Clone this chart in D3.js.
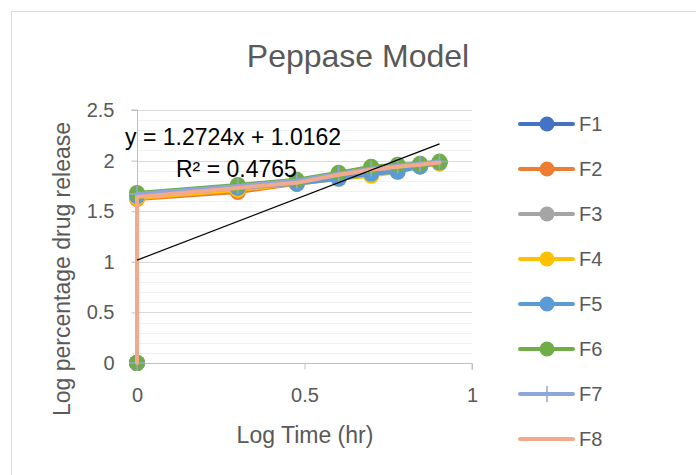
<!DOCTYPE html>
<html><head><meta charset="utf-8">
<script src="https://cdn.jsdelivr.net/npm/d3@7"></script>
<style>body{margin:0;background:#fff;} text{font-family:"Liberation Sans",Arial,sans-serif;}</style>
</head><body><svg id="c" width="696" height="475"></svg>
<script>
const logTime = [0, 0, 0.301, 0.477, 0.602, 0.699, 0.778, 0.845, 0.903];
const F1 = [0, 1.66, 1.74, 1.79, 1.85, 1.90, 1.93, 1.96, 1.98];
const F2 = [0, 1.62, 1.69, 1.77, 1.84, 1.88, 1.92, 1.95, 1.98];
const F3 = [0, 1.65, 1.72, 1.78, 1.83, 1.89, 1.92, 1.95, 1.98];
const F4 = [0, 1.63, 1.71, 1.77, 1.82, 1.85, 1.89, 1.94, 1.97];
const F5 = [0, 1.65, 1.73, 1.77, 1.82, 1.87, 1.89, 1.94, 1.98];
const F6 = [0, 1.68, 1.76, 1.81, 1.88, 1.94, 1.96, 1.97, 1.99];
const F7 = [0, 1.67, 1.75, 1.80, 1.87, 1.92, 1.95, 1.97, 1.99];
const F8 = [0, 1.64, 1.73, 1.78, 1.86, 1.91, 1.94, 1.96, 1.98];
const seriesNames = ["F1","F2","F3","F4","F5","F6","F7","F8"];
const seriesValues = [F1,F2,F3,F4,F5,F6,F7,F8];
const seriesColors = ["#4472C4","#ED7D31","#A5A5A5","#FFC000","#5B9BD5","#70AD47","#8FA6DA","#F4A98A"];
const seriesMarkers = ["circle","circle","circle","circle","circle","circle","plus","none"];
const xTicks = [0, 0.5, 1];
const yTicks = [0, 0.5, 1, 1.5, 2, 2.5];
const trendSlope = 1.2724, trendIntercept = 1.0162;
const trendLabel = "y = 1.2724x + 1.0162";
const r2Label = "R² = 0.4765";
const title = "Peppase Model";
const xTitle = "Log Time (hr)";
const yTitle = "Log percentage drug release";

const svg = d3.select("#c");
svg.append("rect").attr("x",11.5).attr("y",11.5).attr("width",700).attr("height",500)
  .attr("fill","#fff").attr("stroke","#d9d9d9").attr("stroke-width",1);

const x = d3.scaleLinear().domain([0,1]).range([137,472]);
const y = d3.scaleLinear().domain([0,2.5]).range([363,110]);

// minor gridlines
const minor = d3.range(0, 2.5001, 0.1).filter(v => Math.abs(v*2 - Math.round(v*2)) > 1e-6);
svg.append("g").selectAll("line").data(minor).join("line")
  .attr("x1",x(0)).attr("x2",x(1)).attr("y1",d=>Math.round(y(d))+0.5).attr("y2",d=>Math.round(y(d))+0.5)
  .attr("stroke","#f2f2f2").attr("stroke-width",1);
// major gridlines
svg.append("g").selectAll("line").data(yTicks.slice(1)).join("line")
  .attr("x1",x(0)).attr("x2",x(1)).attr("y1",d=>Math.round(y(d))+0.5).attr("y2",d=>Math.round(y(d))+0.5)
  .attr("stroke","#d9d9d9").attr("stroke-width",1);

// axes
const yAxis = svg.append("g").attr("transform",`translate(${x(0)+0.5},0)`)
  .call(d3.axisLeft(y).tickValues(yTicks).tickSize(6).tickPadding(17).tickFormat(d3.format("")));
const xAxis = svg.append("g").attr("transform",`translate(0,${Math.round(y(0))+0.5})`)
  .call(d3.axisBottom(x).tickValues(xTicks).tickSize(6).tickPadding(18).tickFormat(d3.format("")));
[yAxis,xAxis].forEach(a=>{
  a.select(".domain").attr("stroke","#bfbfbf").attr("stroke-width",1);
  a.selectAll(".tick line").attr("stroke","#bfbfbf");
  a.selectAll(".tick text").attr("fill","#595959").style("font-size","20px").style("font-family","Liberation Sans, Arial, sans-serif");
});
yAxis.select(".domain").attr("d",`M-6,${y(2.5)}H0V${y(0)}`);
xAxis.select(".domain").attr("d",`M${x(0)},0H${x(1)}V6`);

// series
const line = d3.line().x((d,i)=>x(logTime[i])).y(d=>y(d));
seriesValues.forEach((vals,k)=>{
  const g = svg.append("g");
  g.append("path").datum(vals).attr("d",line).attr("fill","none")
    .attr("stroke",seriesColors[k]).attr("stroke-width",4).attr("stroke-linejoin","round").attr("stroke-linecap","round");
  if (seriesMarkers[k]==="circle") {
    g.selectAll("circle").data(vals).join("circle")
      .attr("cx",(d,i)=>x(logTime[i])).attr("cy",d=>y(d)).attr("r",8).attr("fill",seriesColors[k]);
  } else if (seriesMarkers[k]==="plus") {
    g.selectAll("path.m").data(vals).join("path").attr("class","m")
      .attr("d",(d,i)=>{const cx=x(logTime[i]), cy=y(d); return `M${cx-8},${cy}H${cx+8}M${cx},${cy-8}V${cy+8}`;})
      .attr("stroke",seriesColors[k]).attr("stroke-width",1.5);
  }
});

// trendline
svg.append("line").attr("x1",x(0)).attr("y1",y(trendIntercept))
  .attr("x2",x(0.903)).attr("y2",y(trendIntercept+trendSlope*0.903))
  .attr("stroke","#000").attr("stroke-width",1.2);
svg.append("text").attr("x",125).attr("y",145).text(trendLabel).attr("fill","#000").style("font-size","23px");
svg.append("text").attr("x",176).attr("y",177).text(r2Label).attr("fill","#000").style("font-size","23px");

// titles
svg.append("text").attr("x",358).attr("y",67).attr("text-anchor","middle").text(title)
  .attr("fill","#595959").style("font-size","32px");
svg.append("text").attr("x",305).attr("y",443).attr("text-anchor","middle").text(xTitle)
  .attr("fill","#595959").style("font-size","23px");
svg.append("text").attr("transform","translate(70,269) rotate(-90)").attr("text-anchor","middle").text(yTitle)
  .attr("fill","#595959").style("font-size","23px");

// legend
const leg = svg.append("g");
seriesNames.forEach((n,k)=>{
  const cy = 124 + k*45;
  const g = leg.append("g");
  g.append("line").attr("x1",520).attr("x2",573).attr("y1",cy).attr("y2",cy)
    .attr("stroke",seriesColors[k]).attr("stroke-width",4).attr("stroke-linecap","round");
  if (seriesMarkers[k]==="circle") g.append("circle").attr("cx",547).attr("cy",cy).attr("r",7.5).attr("fill",seriesColors[k]);
  else if (seriesMarkers[k]==="plus") g.append("line").attr("x1",547).attr("x2",547).attr("y1",cy-8).attr("y2",cy+8).attr("stroke",seriesColors[k]).attr("stroke-width",1.5);
  g.append("text").attr("x",579).attr("y",cy+7).text(n).attr("fill","#595959").style("font-size","20px");
});
</script></body></html>
